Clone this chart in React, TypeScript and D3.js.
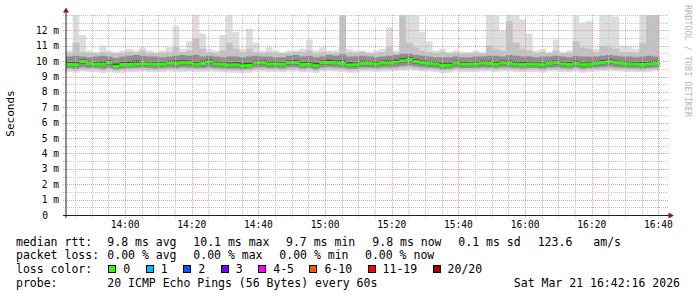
import React from "react";
import * as d3 from "d3";

const W = 697;
const H = 297;
const START = new Date(2026, 2, 21, 13, 42, 16);
const END = new Date(2026, 2, 21, 16, 42, 16);
const STEP_MIN = 2;

// median RTT (ms), one value per 2-minute step
const median = [
  9.78, 9.76, 9.98, 9.85, 9.8, 9.8, 9.9, 9.65, 9.78, 9.78,
  9.8, 9.83, 9.82, 9.8, 9.8, 9.86, 9.84, 9.9, 9.88, 9.8,
  9.85, 9.95, 9.82, 9.8, 9.75, 9.76, 9.7, 9.72, 9.86, 9.88,
  9.82, 9.82, 9.8, 9.9, 9.9, 9.78, 9.8, 9.7, 9.9, 9.92,
  9.86, 9.84, 9.75, 9.76, 9.85, 9.84, 9.82, 9.88, 9.86, 9.93,
  10.02, 10.1, 9.96, 9.88, 9.84, 9.82, 9.72, 9.74, 9.86, 9.8,
  9.8, 9.82, 9.86, 9.84, 9.8, 9.88, 9.84, 9.8, 9.78, 9.82,
  9.8, 9.76, 9.84, 9.9, 9.82, 9.78, 9.84, 9.76, 9.8, 9.84,
  9.92, 9.98, 9.9, 9.84, 9.82, 9.8, 9.78, 9.82, 9.85,
];
// smoke: sorted ping ranks (ms)
const pingMax = [
  10.7, 13.2, 11.7, 10.7, 10.6, 11.0, 10.7, 10.6, 10.7, 10.8,
  10.7, 10.9, 10.7, 10.6, 10.7, 10.9, 12.3, 10.8, 11.3, 13.2,
  11.8, 10.8, 10.7, 11.7, 13.2, 11.9, 10.8, 12.1, 11.2, 10.7,
  10.9, 10.7, 10.6, 10.7, 10.7, 10.8, 11.4, 10.7, 10.9, 10.7,
  10.7, 13.2, 10.8, 10.7, 10.7, 10.6, 10.7, 10.8, 12.2, 10.7,
  13.2, 13.2, 13.2, 11.9, 11.3, 10.7, 10.8, 10.6, 10.7, 10.6,
  10.6, 10.7, 10.6, 13.2, 13.2, 12.0, 13.2, 13.2, 12.7, 11.8,
  10.7, 10.8, 10.6, 11.4, 10.6, 10.7, 13.2, 12.5, 12.6, 10.8,
  13.2, 13.2, 12.9, 11.0, 11.0, 10.8, 13.2, 13.2, 13.2,
];
const ping19 = [
  10.55, 11.2, 10.6, 10.55, 10.5, 10.6, 10.55, 10.5, 10.55, 10.6,
  10.55, 10.7, 10.55, 10.5, 10.55, 10.6, 10.9, 10.6, 10.7, 11.5,
  10.8, 10.6, 10.55, 10.7, 11.2, 10.8, 10.6, 10.8, 10.6, 10.55,
  10.6, 10.55, 10.5, 10.55, 10.6, 10.6, 10.7, 10.55, 10.6, 10.55,
  10.55, 13.2, 10.6, 10.55, 10.6, 10.5, 10.55, 10.6, 10.9, 10.55,
  13.2, 11.2, 10.9, 10.7, 10.6, 10.55, 10.6, 10.5, 10.55, 10.5,
  10.5, 10.55, 10.5, 11.0, 10.8, 10.7, 12.6, 11.2, 10.8, 10.7,
  10.55, 10.6, 10.5, 10.7, 10.5, 10.55, 11.3, 10.9, 10.8, 10.6,
  11.0, 10.9, 10.8, 10.6, 10.6, 10.6, 11.2, 13.2, 13.2,
];
const ping16 = [
  10.3, 10.35, 10.3, 10.25, 10.3, 10.35, 10.3, 10.2, 10.3, 10.35,
  10.4, 10.35, 10.3, 10.3, 10.25, 10.3, 10.35, 10.4, 10.35, 10.4,
  10.3, 10.35, 10.3, 10.25, 10.3, 10.3, 10.25, 10.3, 10.35, 10.3,
  10.3, 10.25, 10.25, 10.35, 10.4, 10.3, 10.35, 10.25, 10.3, 10.4,
  10.35, 10.45, 10.3, 10.3, 10.35, 10.3, 10.25, 10.3, 10.35, 10.4,
  10.5, 10.5, 10.4, 10.35, 10.3, 10.25, 10.25, 10.25, 10.3, 10.25,
  10.25, 10.3, 10.3, 10.35, 10.35, 10.3, 10.4, 10.35, 10.3, 10.3,
  10.25, 10.3, 10.3, 10.35, 10.3, 10.25, 10.35, 10.3, 10.3, 10.3,
  10.35, 10.4, 10.35, 10.3, 10.3, 10.25, 10.3, 10.35, 10.3,
];
const ping12 = [
  9.95, 9.95, 10.1, 10.0, 9.95, 10.0, 10.05, 9.85, 9.95, 10.0,
  10.05, 10.0, 9.98, 9.95, 9.95, 10.02, 10.05, 10.08, 10.05, 9.98,
  10.02, 10.1, 10.0, 9.95, 9.92, 9.95, 9.9, 9.9, 10.02, 10.05,
  10.0, 9.98, 9.95, 10.05, 10.08, 9.95, 10.0, 9.9, 10.05, 10.1,
  10.05, 10.05, 9.95, 9.92, 10.02, 10.0, 9.98, 10.05, 10.05, 10.1,
  10.2, 10.25, 10.12, 10.05, 10.0, 9.98, 9.9, 9.9, 10.02, 9.98,
  9.95, 9.98, 10.02, 10.02, 9.98, 10.05, 10.02, 9.98, 9.95, 10.0,
  9.95, 9.92, 10.0, 10.05, 9.98, 9.95, 10.02, 9.92, 9.98, 10.0,
  10.08, 10.12, 10.05, 10.0, 9.98, 9.95, 9.95, 10.0, 10.02,
];
const ping9 = [
  9.68, 9.66, 9.85, 9.74, 9.7, 9.7, 9.78, 9.56, 9.68, 9.68,
  9.7, 9.72, 9.72, 9.7, 9.7, 9.75, 9.73, 9.78, 9.76, 9.7,
  9.74, 9.82, 9.72, 9.7, 9.66, 9.66, 9.6, 9.62, 9.75, 9.77,
  9.72, 9.72, 9.7, 9.78, 9.78, 9.68, 9.7, 9.6, 9.78, 9.8,
  9.75, 9.74, 9.65, 9.66, 9.74, 9.74, 9.72, 9.77, 9.75, 9.82,
  9.9, 9.96, 9.85, 9.77, 9.74, 9.72, 9.62, 9.64, 9.75, 9.7,
  9.7, 9.72, 9.75, 9.74, 9.7, 9.77, 9.74, 9.7, 9.68, 9.72,
  9.7, 9.66, 9.74, 9.78, 9.72, 9.68, 9.74, 9.66, 9.7, 9.74,
  9.8, 9.86, 9.8, 9.74, 9.72, 9.7, 9.68, 9.72, 9.75,
];
const ping5 = [
  9.55, 9.5, 9.6, 9.55, 9.55, 9.5, 9.55, 9.45, 9.5, 9.55,
  9.55, 9.58, 9.55, 9.52, 9.55, 9.58, 9.55, 9.6, 9.58, 9.55,
  9.55, 9.6, 9.55, 9.52, 9.5, 9.5, 9.48, 9.5, 9.58, 9.6,
  9.55, 9.55, 9.52, 9.6, 9.6, 9.52, 9.55, 9.48, 9.58, 9.62,
  9.58, 9.55, 9.5, 9.5, 9.58, 9.58, 9.55, 9.6, 9.58, 9.62,
  9.68, 9.72, 9.65, 9.6, 9.58, 9.55, 9.48, 9.5, 9.58, 9.55,
  9.55, 9.55, 9.58, 9.58, 9.55, 9.6, 9.58, 9.55, 9.52, 9.55,
  9.55, 9.5, 9.58, 9.6, 9.55, 9.52, 9.58, 9.5, 9.55, 9.58,
  9.62, 9.65, 9.6, 9.58, 9.55, 9.55, 9.52, 9.55, 9.58,
];
const ping2 = [
  9.42, 9.38, 9.45, 9.42, 9.42, 9.38, 9.42, 9.35, 9.38, 9.42,
  9.42, 9.45, 9.42, 9.4, 9.42, 9.45, 9.42, 9.45, 9.45, 9.42,
  9.42, 9.45, 9.42, 9.4, 9.38, 9.38, 9.36, 9.38, 9.45, 9.45,
  9.42, 9.42, 9.4, 9.45, 9.45, 9.4, 9.42, 9.36, 9.45, 9.48,
  9.45, 9.42, 9.38, 9.38, 9.45, 9.45, 9.42, 9.45, 9.45, 9.48,
  9.52, 9.55, 9.5, 9.45, 9.45, 9.42, 9.36, 9.38, 9.45, 9.42,
  9.42, 9.42, 9.45, 9.45, 9.42, 9.45, 9.45, 9.42, 9.4, 9.42,
  9.42, 9.38, 9.45, 9.45, 9.42, 9.4, 9.45, 9.38, 9.42, 9.45,
  9.48, 9.5, 9.45, 9.45, 9.42, 9.42, 9.4, 9.42, 9.45,
];
const pingMin = [
  9.3, 9.25, 9.32, 9.3, 9.3, 9.22, 9.3, 9.22, 9.25, 9.3,
  9.3, 9.32, 9.3, 9.28, 9.3, 9.32, 9.3, 9.3, 9.32, 9.3,
  9.3, 9.32, 9.3, 9.28, 9.25, 9.25, 9.22, 9.25, 9.32, 9.32,
  9.3, 9.3, 9.28, 9.32, 9.32, 9.28, 9.3, 9.22, 9.32, 9.35,
  9.32, 9.3, 9.25, 9.25, 9.32, 9.32, 9.3, 9.32, 9.32, 9.35,
  9.38, 9.4, 9.38, 9.32, 9.32, 9.3, 9.22, 9.25, 9.32, 9.3,
  9.3, 9.3, 9.32, 9.32, 9.3, 9.32, 9.32, 9.3, 9.28, 9.3,
  9.3, 9.25, 9.32, 9.32, 9.3, 9.28, 9.32, 9.25, 9.3, 9.32,
  9.35, 9.38, 9.32, 9.32, 9.3, 9.3, 9.28, 9.3, 9.32,
];

const yTickValues = [0, 1, 2, 3, 4, 5, 6, 7, 8, 9, 10, 11, 12];
const yTickLabels = ["0", "1 m", "2 m", "3 m", "4 m", "5 m", "6 m", "7 m", "8 m", "9 m", "10 m", "11 m", "12 m"];
const xTickLabels = ["14:00", "14:20", "14:40", "15:00", "15:20", "15:40", "16:00", "16:20", "16:40"];

const rttStats = ["9.8 ms avg", "10.1 ms max", "9.7 ms min", "9.8 ms now", "0.1 ms sd", "123.6", "am/s"];
const lossStats = ["0.00 % avg", "0.00 % max", "0.00 % min", "0.00 % now"];
const lossLabels = ["0", "1", "2", "3", "4-5", "6-10", "11-19", "20/20"];
const lossColors = ["#26ff00", "#00b8ff", "#0059ff", "#7e00ff", "#ff00ff", "#ff5500", "#ff0000", "#a10000"];
const probeText = "20 ICMP Echo Pings (56 Bytes) every 60s";
const dateText = "Sat Mar 21 16:42:16 2026";

const MONO = "'DejaVu Sans Mono', monospace";

export default function App() {
  const x = d3.scaleTime().domain([START, END]).range([66, 666]);
  const y = d3.scaleLinear().domain([0, 13]).range([215, 15]);
  const n = median.length;
  const times = d3.range(n + 1).map((i) => d3.timeMinute.offset(START, i * STEP_MIN));

  const band = (lo: number[], hi: number[]) => {
    const pts = lo.map((v, i) => ({ t: times[i], lo: v, hi: hi[i] }));
    pts.push({ t: times[n], lo: lo[n - 1], hi: hi[n - 1] });
    return d3
      .area<any>()
      .x((d) => x(d.t))
      .y0((d) => y(d.lo))
      .y1((d) => y(d.hi))
      .curve(d3.curveStepAfter)(pts) as string;
  };
  const medPts = median.map((v, i) => ({ t: times[i], v }));
  medPts.push({ t: times[n], v: median[n - 1] });
  const medPath = d3
    .area<any>()
    .x((d) => x(d.t))
    .y0((d) => y(d.v) + 1.5)
    .y1((d) => y(d.v) - 1.5)
    .curve(d3.curveStepAfter)(medPts) as string;

  const minorY = d3.range(0.5, 13.01, 0.5).filter((v) => !(Number.isInteger(v) && v <= 12));
  const majorY = yTickValues.filter((v) => v > 0);
  const parseHM = d3.timeParse("%Y-%m-%d %H:%M");
  const majorX = xTickLabels.map((l) => parseHM("2026-03-21 " + l) as Date);
  const minorX = x.ticks(d3.timeMinute.every(5) as any).filter((d) => d.getMinutes() % 20 !== 0);

  const cw = 6.88;
  const boxes: { bx: number; tx: number }[] = [];
  let cur = 108.3;
  lossLabels.forEach((l) => {
    boxes.push({ bx: cur, tx: cur + 15 });
    cur = cur + 15 + l.length * cw + 15.6;
  });
  const rttX = [107.3, 193.3, 286, 372.3, 458.3, 537.7, 593.3];
  const lossX = [107.3, 193.3, 279.3, 365];
  const rowY = [245.5, 259.2, 272.9, 286.6];

  return (
    <svg width={W} height={H} style={{ position: "absolute", left: 0, top: 0, background: "#fff" }}>
      <defs>
        <clipPath id="plot">
          <rect x={66} y={15} width={600} height={200} />
        </clipPath>
      </defs>
      <rect x={0} y={0} width={W} height={H} fill="#fff" />
      <g clipPath="url(#plot)">
        <path d={band(pingMin, pingMax)} fill="#dddddd" />
        <path d={band(ping2, ping19)} fill="#c2c2c2" />
        <path d={band(ping5, ping16)} fill="#8e8e8e" />
        <path d={band(ping9, ping12)} fill="#505050" />
        <path d={medPath} fill="#26ff00" />
      </g>
      {/* grid */}
      <g shapeRendering="crispEdges">
        {minorY.map((v) => (
          <line key={"my" + v} x1={63} x2={668} y1={Math.round(y(v)) + 0.5} y2={Math.round(y(v)) + 0.5} stroke="#c4c4c4" strokeDasharray="1,1" />
        ))}
        {minorX.map((d) => (
          <line key={"mx" + +d} x1={Math.round(x(d)) + 0.5} x2={Math.round(x(d)) + 0.5} y1={15} y2={218} stroke="#c4c4c4" strokeDasharray="1,1" />
        ))}
        {majorY.map((v) => (
          <line key={"My" + v} x1={63} x2={668} y1={Math.round(y(v)) + 0.5} y2={Math.round(y(v)) + 0.5} stroke="#e89c9c" strokeDasharray="1,1" />
        ))}
        {majorX.map((d) => (
          <line key={"Mx" + +d} x1={Math.round(x(d)) + 0.5} x2={Math.round(x(d)) + 0.5} y1={15} y2={218} stroke="#e89c9c" strokeDasharray="1,1" />
        ))}
      </g>
      {/* axes */}
      <line x1={66} x2={66} y1={218} y2={12} stroke="#1f1f1f" strokeWidth={1} />
      <line x1={63} x2={669} y1={215.5} y2={215.5} stroke="#1f1f1f" strokeWidth={1} shapeRendering="crispEdges" />
      <path d="M63,12.5 L69,12.5 L66,7.5 Z" fill="#801f1f" />
      <path d="M668.5,212.5 L668.5,218.5 L674,215.5 Z" fill="#801f1f" />
      {/* y labels */}
      {yTickValues.map((v, i) => (
        <text key={"yl" + v} x={v === 0 ? 48 : 59} y={y(v) + 3.5} textAnchor="end" fontFamily={MONO} fontSize={9.6} fill="#000">
          {yTickLabels[i]}
        </text>
      ))}
      {/* x labels */}
      {majorX.map((d, i) => (
        <text key={"xl" + i} x={x(d)} y={228} textAnchor="middle" fontFamily={MONO} fontSize={9.6} fill="#000">
          {xTickLabels[i]}
        </text>
      ))}
      <text transform="translate(13.5,113.5) rotate(-90)" textAnchor="middle" fontFamily={MONO} fontSize={11} fill="#000">
        Seconds
      </text>
      <text transform="translate(685,5) rotate(90)" textAnchor="start" fontFamily={MONO} fontSize={8.5} fill="#b4b4b4" textLength={112} lengthAdjust="spacingAndGlyphs">
        RRDTOOL / TOBI OETIKER
      </text>
      {/* legend */}
      <g fontFamily={MONO} fontSize={11.5} fill="#000">
        <text x={16} y={rowY[0]}>median rtt:</text>
        {rttStats.map((s, i) => (
          <text key={"r" + i} x={rttX[i]} y={rowY[0]}>{s}</text>
        ))}
        <text x={16} y={rowY[1]}>packet loss:</text>
        {lossStats.map((s, i) => (
          <text key={"l" + i} x={lossX[i]} y={rowY[1]}>{s}</text>
        ))}
        <text x={16} y={rowY[2]}>loss color:</text>
        {lossLabels.map((l, i) => (
          <g key={"lc" + i}>
            <rect x={Math.round(boxes[i].bx) + 0.5} y={265.5} width={7} height={7} fill={lossColors[i]} stroke="#000" strokeWidth={1} />
            <text x={boxes[i].tx} y={rowY[2]}>{l}</text>
          </g>
        ))}
        <text x={16} y={rowY[3]}>probe:</text>
        <text x={107.3} y={rowY[3]}>{probeText}</text>
        <text x={680} y={rowY[3]} textAnchor="end">{dateText}</text>
      </g>
    </svg>
  );
}
